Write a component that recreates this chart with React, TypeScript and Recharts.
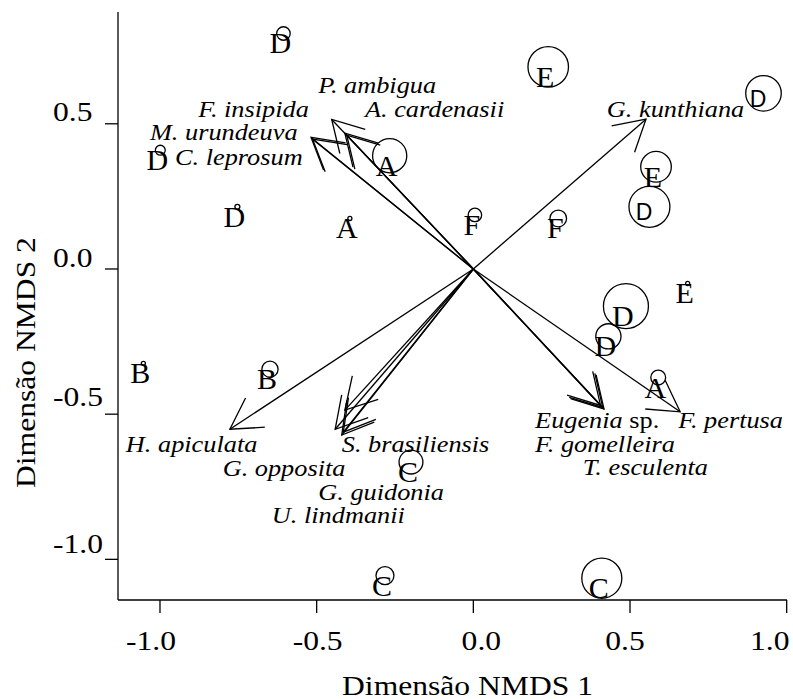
import { ScatterChart, Scatter, XAxis, YAxis, ReferenceLine } from "recharts";

// sites (NMDS scores), group letter and symbol size
const siteGroups = ["D", "D", "D", "A", "A", "E", "F", "F", "E", "D", "D", "E", "D", "D", "A", "C", "C", "C", "B", "B"];
const siteX = [-0.606, -0.999, -0.753, -0.394, -0.267, 0.239, 0.005, 0.271, 0.583, 0.562, 0.926, 0.684, 0.487, 0.431, 0.59, 0.41, -0.199, -0.282, -1.053, -0.649];
const siteY = [0.811, 0.409, 0.214, 0.174, 0.39, 0.696, 0.186, 0.174, 0.352, 0.214, 0.605, -0.05, -0.128, -0.232, -0.374, -1.065, -0.665, -1.056, -0.325, -0.345];
const siteWeight = [0.3, 0.22, 0.11, 0.09, 0.76, 0.9, 0.3, 0.37, 0.68, 0.91, 0.79, 0.09, 1.0, 0.56, 0.33, 0.89, 0.53, 0.4, 0.09, 0.36];

// species vectors
const speciesNames = [
  "P. ambigua", "F. insipida", "A. cardenasii", "M. urundeuva", "C. leprosum",
  "G. kunthiana",
  "H. apiculata", "G. opposita", "S. brasiliensis", "G. guidonia", "U. lindmanii",
  "Eugenia sp.", "F. gomelleira", "T. esculenta", "F. pertusa"
];
const speciesX = [-0.404, -0.452, -0.41, -0.518, -0.513, 0.551, -0.777, -0.441, -0.42, -0.41, -0.415, 0.413, 0.406, 0.417, 0.66];
const speciesY = [0.461, 0.515, 0.468, 0.453, 0.447, 0.516, -0.552, -0.552, -0.572, -0.486, -0.562, -0.477, -0.47, -0.482, -0.492];
// where each species name is written
const labelX = [-0.495, -0.878, -0.346, -1.032, -0.952, 0.426, -1.109, -0.8, -0.42, -0.495, -0.643, 0.197, 0.197, 0.349, 0.654];
const labelY = [0.607, 0.524, 0.524, 0.444, 0.358, 0.524, -0.629, -0.712, -0.629, -0.796, -0.874, -0.547, -0.629, -0.71, -0.547];

const xTicks = [-1, -0.5, 0, 0.5, 1];
const yTicks = [-1, -0.5, 0, 0.5];

const SERIF = "'Liberation Serif', 'Times New Roman', serif";
const SANS = "'Liberation Sans', Arial, sans-serif";
const WIDE = 1.17;
const sansSites = new Set([9, 10]);
const xTickNudge = [-9, 1, 8, -5, -17];
const yTickNudge = [-6, -8, -2, -3];

const sites = siteGroups.map((g, i) => ({ x: siteX[i], y: siteY[i], w: siteWeight[i], g, i }));
const labels = speciesNames.map((name, i) => ({ x: labelX[i], y: labelY[i], name }));

const fmt = (v: number) => v.toFixed(1);

function SiteMark(props: any) {
  const { cx, cy, payload } = props;
  const sans = sansSites.has(payload.i);
  return (
    <g>
      <circle cx={cx} cy={cy} r={payload.w * 22.5} fill="none" stroke="#000" strokeWidth={1.3} />
      <text
        x={cx - (sans ? 5.5 : 3)}
        y={cy + (sans ? 13.5 : 20)}
        textAnchor="middle"
        fontFamily={sans ? SANS : SERIF}
        fontSize={sans ? 23 : 30}
        fill="#000"
      >
        {payload.g}
      </text>
    </g>
  );
}

function Arrow(props: any) {
  const { x1, y1, x2, y2 } = props;
  const a = Math.atan2(y1 - y2, x1 - x2);
  const len = 35;
  const spread = Math.PI / 6;
  const w1 = `${x2 + len * Math.cos(a + spread)},${y2 + len * Math.sin(a + spread)}`;
  const w2 = `${x2 + len * Math.cos(a - spread)},${y2 + len * Math.sin(a - spread)}`;
  return (
    <g stroke="#000" strokeWidth={1.3} fill="none">
      <line x1={x1} y1={y1} x2={x2} y2={y2} />
      <polyline points={`${w1} ${x2},${y2} ${w2}`} />
    </g>
  );
}

function SpeciesLabel(props: any) {
  const { cx, cy, payload } = props;
  const m = payload.name.match(/^(.*?)( sp\.)$/);
  return (
    <text
      transform={`translate(${cx},${cy}) scale(${WIDE},1)`}
      fontFamily={SERIF}
      fontSize={22.5}
      fill="#000"
      style={{ whiteSpace: "pre" }}
    >
      {m ? (
        <>
          <tspan fontStyle="italic">{m[1]}</tspan>
          <tspan>{m[2]}</tspan>
        </>
      ) : (
        <tspan fontStyle="italic">{payload.name}</tspan>
      )}
    </text>
  );
}

function XTick(props: any) {
  const { x, y, payload } = props;
  const i = xTicks.indexOf(payload.value);
  return (
    <text
      transform={`translate(${x + (xTickNudge[i] ?? 0)},${y + 35}) scale(${WIDE},1)`}
      textAnchor="middle"
      fontFamily={SERIF}
      fontSize={27}
      fill="#000"
    >
      {fmt(payload.value)}
    </text>
  );
}

function YTick(props: any) {
  const { x, y, payload } = props;
  const i = yTicks.indexOf(payload.value);
  return (
    <text
      transform={`translate(${x - 50},${y + (yTickNudge[i] ?? -4)}) scale(${WIDE},1)`}
      textAnchor="start"
      fontFamily={SERIF}
      fontSize={27}
      fill="#000"
    >
      {fmt(payload.value)}
    </text>
  );
}

function XTitle(props: any) {
  const { x, y, width } = props.viewBox;
  return (
    <text
      transform={`translate(${x + width / 2 + 15},${y + 95}) scale(${WIDE},1)`}
      textAnchor="middle"
      fontFamily={SERIF}
      fontSize={27}
      fill="#000"
    >
      Dimensão NMDS 1
    </text>
  );
}

function YTitle(props: any) {
  const { x, y } = props.viewBox;
  return (
    <text
      transform={`translate(${x + 35},${y + 476}) rotate(-90) scale(${WIDE},1)`}
      textAnchor="start"
      fontFamily={SERIF}
      fontSize={27}
      fill="#000"
    >
      Dimensão NMDS 2
    </text>
  );
}

export default function App() {
  return (
    <div style={{ position: "absolute", left: 0, top: 0, background: "#fff" }}>
      <ScatterChart width={793} height={699} margin={{ top: 12, right: 6, bottom: 0, left: 0 }}>
        <XAxis
          type="number"
          dataKey="x"
          domain={[-1.134, 1.001]}
          allowDataOverflow
          ticks={xTicks}
          height={99}
          tickSize={13}
          tick={<XTick />}
          tickLine={{ stroke: "#000", strokeWidth: 1.3 }}
          axisLine={{ stroke: "#000", strokeWidth: 1.3 }}
          label={<XTitle />}
        />
        <YAxis
          type="number"
          dataKey="y"
          domain={[-1.14, 0.885]}
          allowDataOverflow
          ticks={yTicks}
          width={118}
          tickSize={13}
          tick={<YTick />}
          tickLine={{ stroke: "#000", strokeWidth: 1.3 }}
          axisLine={{ stroke: "#000", strokeWidth: 1.3 }}
          label={<YTitle />}
        />
        <Scatter data={sites} shape={<SiteMark />} isAnimationActive={false} />
        {speciesNames.map((name, i) => (
          <ReferenceLine
            key={name}
            segment={[{ x: 0, y: 0 }, { x: speciesX[i], y: speciesY[i] }]}
            shape={<Arrow />}
            ifOverflow="visible"
          />
        ))}
        <Scatter data={labels} shape={<SpeciesLabel />} isAnimationActive={false} />
      </ScatterChart>
    </div>
  );
}
